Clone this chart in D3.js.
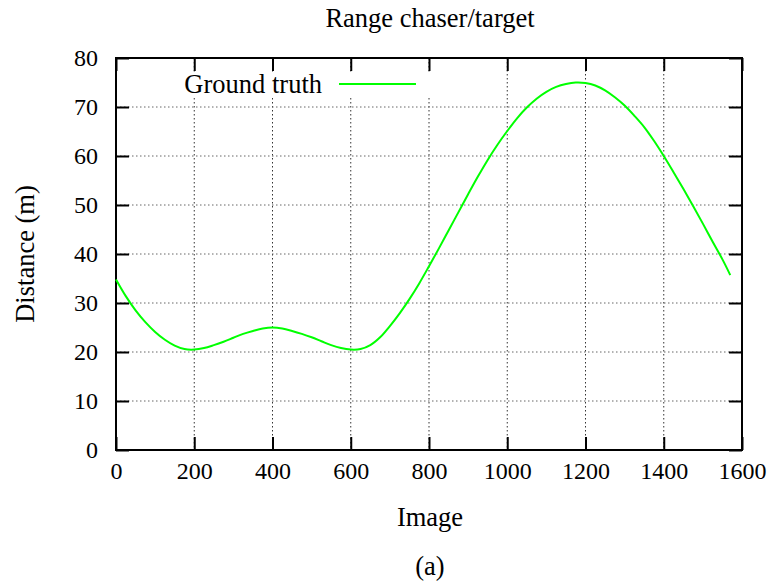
<!DOCTYPE html>
<html><head><meta charset="utf-8">
<script src="https://cdn.jsdelivr.net/npm/d3@7"></script>
<style>body{margin:0;background:#fff}svg text{font-family:"Liberation Serif","Times New Roman",serif;fill:#000}</style>
</head><body>
<script>
const chartTitle = "Range chaser/target";
const xLabel = "Image";
const yLabel = "Distance (m)";
const caption = "(a)";
const seriesName = "Ground truth";
const xTicks = [0,200,400,600,800,1000,1200,1400,1600];
const yTicks = [0,10,20,30,40,50,60,70,80];
const imageIdx = [0,25,50,75,100,125,150,175,200,225,250,275,300,325,350,375,400,425,450,475,500,525,550,575,600,625,650,675,700,725,750,775,800,825,850,875,900,925,950,975,1000,1025,1050,1075,1100,1125,1150,1175,1200,1225,1250,1275,1300,1325,1350,1375,1400,1425,1450,1475,1500,1525,1550,1570];
const distance = [34.8,31.4,28.5,26.1,24.1,22.5,21.3,20.6,20.5,20.8,21.4,22.1,22.9,23.7,24.3,24.8,25.0,24.8,24.3,23.7,23.0,22.2,21.4,20.8,20.5,20.6,21.4,23.0,25.3,27.9,30.8,34.0,37.5,41.1,44.8,48.5,52.2,55.8,59.2,62.3,65.1,67.7,69.9,71.7,73.1,74.1,74.7,75.0,74.9,74.4,73.4,72.0,70.3,68.2,65.9,63.1,60.0,56.7,53.3,49.8,46.2,42.5,38.9,35.7];

const W=774,H=581;
const svg=d3.select("body").append("svg").attr("width",W).attr("height",H);
const L=116,R=742,T=58,B=450;
const x=d3.scaleLinear().domain([0,1600]).range([L,R]);
const y=d3.scaleLinear().domain([0,80]).range([B,T]);
const fsTick=24, fsText=26.5;
const serif='"Liberation Serif","Times New Roman",serif';

// grid
const g=svg.append("g");
g.selectAll(".gx").data(xTicks.slice(1,-1)).enter().append("line")
 .attr("x1",d=>x(d)).attr("x2",d=>x(d)).attr("y1",T).attr("y2",B)
 .attr("stroke","#333").attr("stroke-width",1).attr("stroke-dasharray","1.5,2.5");
g.selectAll(".gy").data(yTicks.slice(1,-1)).enter().append("line")
 .attr("y1",d=>y(d)).attr("y2",d=>y(d)).attr("x1",L).attr("x2",R)
 .attr("stroke","#666").attr("stroke-width",1).attr("stroke-dasharray","1.5,2.5");

// legend box (opaque)
svg.append("rect").attr("x",175).attr("y",72).attr("width",262).attr("height",26).attr("fill","#fff");

// axes
const tk=13;
const ax=(sel)=>{sel.attr("font-family",null).attr("font-size",null);sel.selectAll("path").remove();sel.selectAll("line").attr("stroke","#000").attr("stroke-width",2);sel.selectAll("text").style("font-family",serif).style("font-size",fsTick+"px");};
svg.append("g").attr("transform",`translate(0,${B})`).call(d3.axisBottom(x).tickValues(xTicks).tickSize(-tk).tickPadding(12).tickFormat(d3.format("d"))).call(ax);
svg.append("g").attr("transform",`translate(0,${T})`).call(d3.axisTop(x).tickValues(xTicks).tickSize(-tk).tickFormat("")).call(ax);
svg.append("g").attr("transform",`translate(${L},0)`).call(d3.axisLeft(y).tickValues(yTicks).tickSize(-tk).tickPadding(18).tickFormat(d3.format("d"))).call(ax);
svg.append("g").attr("transform",`translate(${R},0)`).call(d3.axisRight(y).tickValues(yTicks).tickSize(-tk).tickFormat("")).call(ax);

// frame
svg.append("rect").attr("x",L).attr("y",T).attr("width",R-L).attr("height",B-T).attr("fill","none").attr("stroke","#000").attr("stroke-width",2);

// curve
const pts=imageIdx.map((d,i)=>[d,distance[i]]);
svg.append("path").datum(pts).attr("fill","none").attr("stroke","#00ff00").attr("stroke-width",2)
 .attr("d",d3.line().x(d=>x(d[0])).y(d=>y(d[1])).curve(d3.curveCatmullRom.alpha(0.5)));

// legend
svg.append("text").attr("x",322).attr("y",93).attr("text-anchor","end").style("font-size",fsText+"px").text(seriesName);
svg.append("line").attr("x1",339).attr("x2",416).attr("y1",84).attr("y2",84).attr("stroke","#00ff00").attr("stroke-width",2);

// titles
svg.append("text").attr("x",430).attr("y",27).attr("text-anchor","middle").style("font-size",fsText+"px").text(chartTitle);
svg.append("text").attr("x",430).attr("y",526).attr("text-anchor","middle").style("font-size",fsText+"px").text(xLabel);
svg.append("text").attr("x",430).attr("y",575).attr("text-anchor","middle").style("font-size",fsText+"px").text(caption);
svg.append("text").attr("transform","translate(34,254) rotate(-90)").attr("text-anchor","middle").style("font-size",fsText+"px").text(yLabel);
</script>
</body></html>
